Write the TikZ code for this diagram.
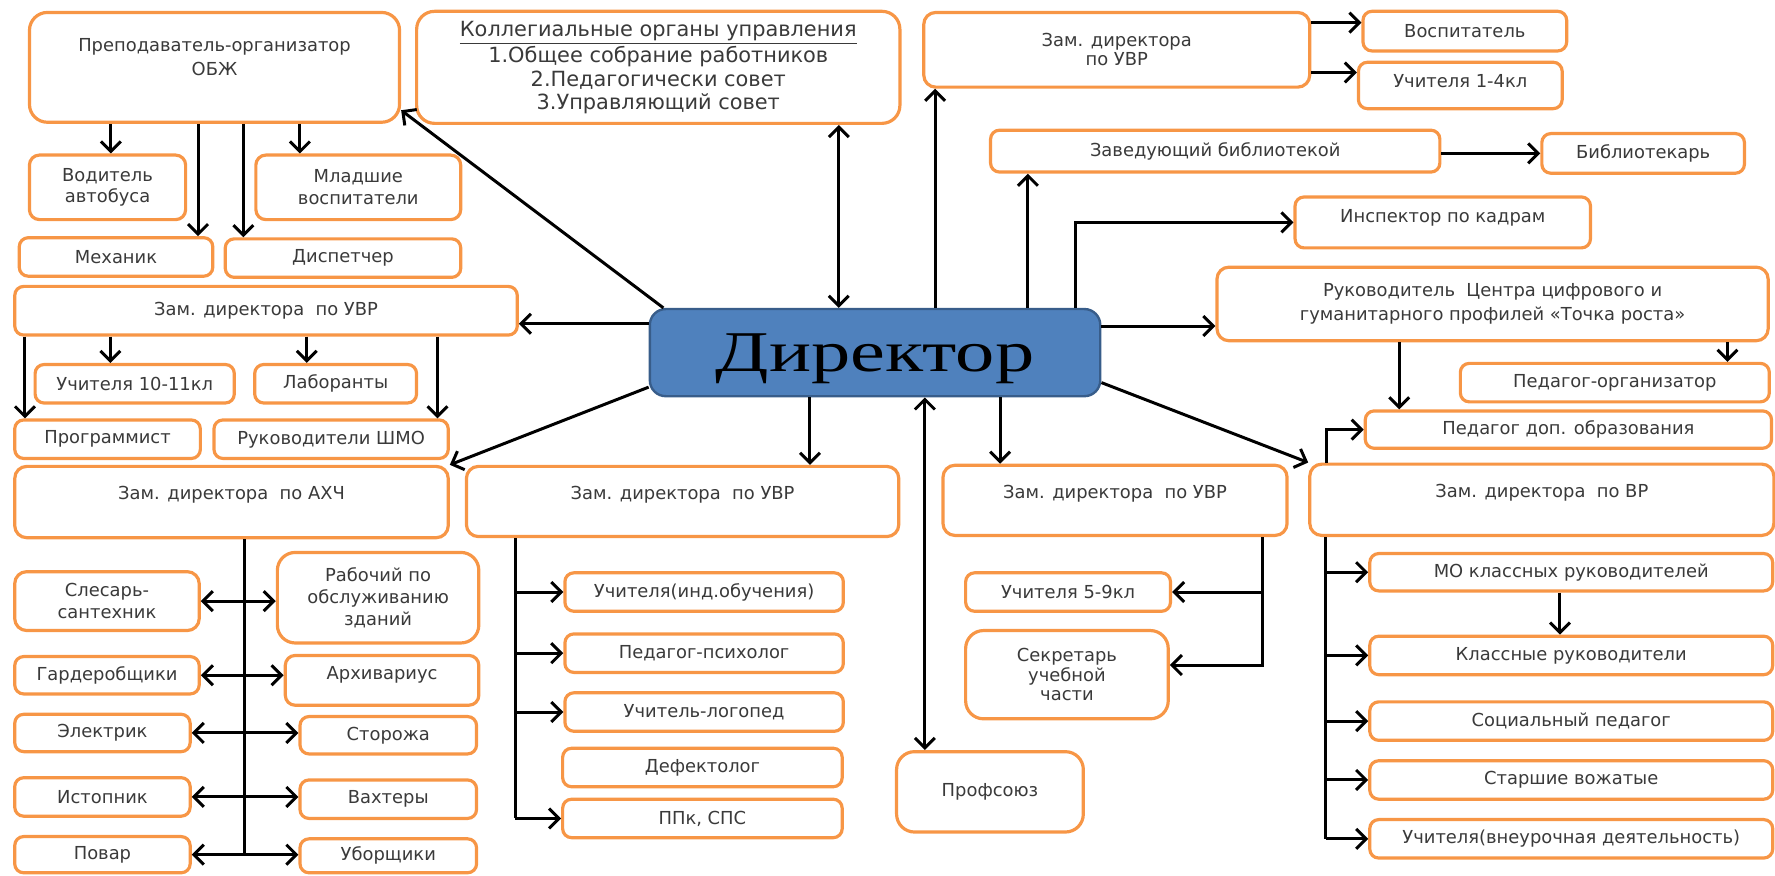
\documentclass[tikz,border=0pt]{standalone}
\usepackage{fontspec}
\setmainfont{DejaVu Sans}
\newfontfamily\dirfont{Liberation Serif}
\usepackage{graphicx}
\usepackage{tikz}
\usetikzlibrary{arrows.meta,positioning}

\definecolor{orng}{HTML}{F79646}
\definecolor{dirblue}{HTML}{4F81BD}
\definecolor{dirline}{HTML}{385D8A}
\definecolor{txt}{HTML}{3A3A3A}

\tikzset{
	box/.style={draw=orng, line width=1.6pt, fill=white, rounded corners=#1, align=center, text=txt, inner sep=2pt, font=\fontsize{9}{11}\selectfont},
	box/.default=4.5pt,
	link/.style={line width=1.5pt, black},
	chief/.style={draw=dirline, line width=1.2pt, fill=dirblue, rounded corners=8pt, text=black, text depth=0pt, font=\dirfont\fontsize{29}{29}\selectfont},
}

\begin{document}
\begin{tikzpicture}[x=0.02cm, y=-0.02cm, >={Straight Barb[length=5pt,width=10pt]}]
		
		\useasboundingbox (0,0) rectangle (1568,773);
		
		\node[chief, minimum width=7.96cm, minimum height=1.54cm] (dir) at (773,311.5) {\scalebox{1.36}[1]{Директор}};
		
		\node[box=9pt, minimum width=6.54cm, minimum height=1.94cm, font=\fontsize{9}{12}\selectfont] (obzh) at (189.5,59.5) {Преподаватель-организатор\\ОБЖ\\[-2pt]\mbox{}};
		
		\node[box=9pt, minimum width=8.54cm, minimum height=1.98cm, font=\fontsize{10.5}{11.6}\selectfont] (koll) at (581.5,59.5) {\underline{Коллегиальные органы управления}\\1.Общее собрание работников\\2.Педагогически совет\\3.Управляющий совет};
		
		\node[box=6pt, minimum width=6.82cm, minimum height=1.32cm, font=\fontsize{9}{9.6}\selectfont] (uvr1) at (986.5,44) {Зам. директора\\по УВР};
		
		\node[box, minimum width=3.6cm, minimum height=0.7cm] (vosp) at (1294,27.5) {Воспитатель};
		
		\node[box, minimum width=3.6cm, minimum height=0.82cm] (uch14) at (1290,75.5) {Учителя 1-4кл\\[-6pt]\mbox{}};
		
		\node[box, minimum width=7.94cm, minimum height=0.74cm] (zavbib) at (1073.5,133.5) {Заведующий библиотекой};
		
		\node[box, minimum width=3.58cm, minimum height=0.7cm] (bibl) at (1451.5,135.5) {Библиотекарь};
		
		\node[box, minimum width=5.22cm, minimum height=0.9cm] (insp) at (1274.5,196.5) {Инспектор по кадрам\\[-4pt]\mbox{}};
		
		\node[box=6pt, minimum width=9.74cm, minimum height=1.3cm, font=\fontsize{9}{12}\selectfont] (ruk) at (1318.5,268.5) {Руководитель~ Центра цифрового и\\гуманитарного профилей «Точка роста»};
		
		\node[box, minimum width=5.46cm, minimum height=0.68cm] (porg) at (1426.5,338) {Педагог-организатор};
		
		\node[box, minimum width=7.18cm, minimum height=0.66cm] (pdo) at (1385.5,379.5) {Педагог доп. образования};
		
		\node[box=5pt, minimum width=2.76cm, minimum height=1.14cm] (vod) at (95,165.5) {Водитель\\автобуса};
		
		\node[box=5pt, minimum width=3.62cm, minimum height=1.14cm] (mlad) at (316.5,165.5) {Младшие\\воспитатели};
		
		\node[box, minimum width=3.42cm, minimum height=0.68cm] (mech) at (102.5,227) {Механик};
		
		\node[box, minimum width=4.16cm, minimum height=0.68cm] (disp) at (303,228) {Диспетчер};
		
		\node[box, minimum width=8.88cm, minimum height=0.86cm] (uvr2) at (235,274.5) {Зам. директора~ по УВР};
		
		\node[box, minimum width=3.52cm, minimum height=0.68cm] (uch1011) at (119,339) {Учителя 10-11кл};
		
		\node[box, minimum width=2.86cm, minimum height=0.68cm] (lab) at (296.5,339) {Лаборанты};
		
		\node[box, minimum width=3.28cm, minimum height=0.68cm] (prog) at (95,388) {Программист};
		
		\node[box, minimum width=4.14cm, minimum height=0.68cm] (shmo) at (292.5,388) {Руководители ШМО};
		
		\node[box=6pt, minimum width=7.66cm, minimum height=1.26cm] (akh) at (204.5,443.5) {Зам. директора~ по АХЧ\\[-2pt]\mbox{}};
		
		\node[box=6pt, minimum width=7.64cm, minimum height=1.24cm] (uvr3) at (603,443) {Зам. директора~ по УВР\\[-2pt]\mbox{}};
		
		\node[box=6pt, minimum width=6.08cm, minimum height=1.24cm] (uvr4) at (985,442) {Зам. директора~ по УВР\\[-2pt]\mbox{}};
		
		\node[box=6pt, minimum width=8.2cm, minimum height=1.26cm] (vr) at (1362,441.5) {Зам. директора~ по ВР\\[-2pt]\mbox{}};
		
		\node[box=6pt, minimum width=3.26cm, minimum height=1.04cm] (sles) at (94.5,531) {Слесарь-\\сантехник};
		
		\node[box=9pt, minimum width=3.56cm, minimum height=1.6cm] (rab) at (334,528) {Рабочий по\\обслуживанию\\зданий};
		
		\node[box, minimum width=3.26cm, minimum height=0.66cm] (gard) at (94.5,596.5) {Гардеробщики};
		
		\node[box=5pt, minimum width=3.42cm, minimum height=0.88cm] (arch) at (337.5,601) {Архивариус\\[-4pt]\mbox{}};
		
		\node[box, minimum width=3.1cm, minimum height=0.66cm] (elek) at (90.5,647.5) {Электрик};
		
		\node[box, minimum width=3.12cm, minimum height=0.66cm] (stor) at (343,649.5) {Сторожа};
		
		\node[box, minimum width=3.1cm, minimum height=0.68cm] (ist) at (90.5,704) {Истопник};
		
		\node[box, minimum width=3.12cm, minimum height=0.68cm] (vakh) at (343,706) {Вахтеры};
		
		\node[box, minimum width=3.1cm, minimum height=0.64cm] (povar) at (90.5,755) {Повар};
		
		\node[box, minimum width=3.12cm, minimum height=0.6cm] (ubor) at (343,756) {Уборщики};
		
		\node[box, minimum width=4.92cm, minimum height=0.68cm] (ind) at (622,523) {Учителя(инд.обучения)};
		
		\node[box, minimum width=4.92cm, minimum height=0.68cm] (psy) at (622,577) {Педагог-психолог};
		
		\node[box, minimum width=4.92cm, minimum height=0.68cm] (log) at (622,629) {Учитель-логопед};
		
		\node[box, minimum width=4.94cm, minimum height=0.68cm] (def) at (620.5,678) {Дефектолог};
		
		\node[box, minimum width=4.94cm, minimum height=0.68cm] (ppk) at (620.5,723) {ППк, СПС};
		
		\node[box=9pt, minimum width=3.3cm, minimum height=1.42cm] (prof) at (874.5,699.5) {Профсоюз};
		
		\node[box, minimum width=3.62cm, minimum height=0.68cm] (u59) at (943.5,523) {Учителя 5-9кл};
		
		\node[box=9pt, minimum width=3.58cm, minimum height=1.56cm, font=\fontsize{9}{9.8}\selectfont] (sekr) at (942.5,596) {Секретарь\\учебной\\части};
		
		\node[box, minimum width=7.12cm, minimum height=0.66cm] (mo) at (1388,505.5) {МО классных руководителей};
		
		\node[box, minimum width=7.12cm, minimum height=0.68cm] (kl) at (1388,579) {Классные руководители};
		
		\node[box, minimum width=7.12cm, minimum height=0.68cm] (soc) at (1388,637) {Социальный педагог};
		
		\node[box, minimum width=7.12cm, minimum height=0.68cm] (star) at (1388,689) {Старшие вожатые};
		
		\node[box, minimum width=7.12cm, minimum height=0.68cm] (uvn) at (1388,741) {Учителя(внеурочная деятельность)};
		
		\draw[link, ->] (586,0 |- dir.north) -- ([yshift=0.24cm]obzh.south east);
		\draw[link, <->] (741,0 |- dir.north) -- (741,0 |- koll.south);
		\draw[link, ->] (826,0 |- dir.north) -- (826,0 |- uvr1.south);
		\draw[link, ->] (908,0 |- dir.north) -- (908,0 |- zavbib.south);
		\draw[link, ->] (950,0 |- dir.north) |- (insp.west);
		\draw[link, ->] (dir.east |- 0,288) -- (ruk.west |- 0,288);
		\draw[link, ->] (dir.west |- 0,286) -- (uvr2.east |- 0,286);
		\draw[link, ->] (dir.west |- 0,342) -- (akh.north east);
		\draw[link, ->] (dir.east |- 0,338) -- (vr.north west);
		\draw[link, ->] (715.5,0 |- dir.south) -- (715.5,0 |- uvr3.north);
		\draw[link, ->] (883.5,0 |- dir.south) -- (883.5,0 |- uvr4.north);
		\draw[link, <->] (817,0 |- dir.south) -- (817,0 |- prof.north);
		
		\draw[link, ->] (98,0 |- obzh.south) -- (98,0 |- vod.north);
		\draw[link, ->] (175,0 |- obzh.south) -- (175,0 |- mech.north);
		\draw[link, ->] (215,0 |- obzh.south) -- (215,0 |- disp.north);
		\draw[link, ->] (265,0 |- obzh.south) -- (265,0 |- mlad.north);
		
		\draw[link, ->] (22,0 |- uvr2.south) -- (22,0 |- prog.north);
		\draw[link, ->] (97.5,0 |- uvr2.south) -- (97.5,0 |- uch1011.north);
		\draw[link, ->] (271,0 |- uvr2.south) -- (271,0 |- lab.north);
		\draw[link, ->] (386.5,0 |- uvr2.south) -- (386.5,0 |- shmo.north);
		
		\draw[link, ->] (uvr1.east |- 0,20) -- (vosp.west |- 0,20);
		\draw[link, ->] (uvr1.east |- 0,64) -- (uch14.west |- 0,64);
		\draw[link, ->] (zavbib.east |- bibl.west) -- (bibl.west);
		\draw[link, ->] (1236,0 |- ruk.south) -- (1236,0 |- pdo.north);
		\draw[link, ->] (1526,0 |- ruk.south) -- (1526,0 |- porg.north);
		\draw[link, ->] (1172,0 |- vr.north) |- (pdo.west);
		
		\draw[link] (216,0 |- akh.south) -- (216,0 |- povar.east);
		\draw[link, <->] (sles.east) -- (sles.east -| rab.west);
		\draw[link, <->] (gard.east) -- (gard.east -| arch.west);
		\draw[link, <->] (elek.east) -- (elek.east -| stor.west);
		\draw[link, <->] (ist.east) -- (ist.east -| vakh.west);
		\draw[link, <->] (povar.east) -- (povar.east -| ubor.west);
		
		\draw[link] (455,0 |- uvr3.south) -- (455,0 |- ppk.west);
		\draw[link, ->] (455,0 |- ind.west) -- (ind.west);
		\draw[link, ->] (455,0 |- psy.west) -- (psy.west);
		\draw[link, ->] (455,0 |- log.west) -- (log.west);
		\draw[link, ->] (455,0 |- ppk.west) -- (ppk.west);
		
		\draw[link, ->] (1115,0 |- uvr4.south) |- ([yshift=0.17cm]sekr.east);
		\draw[link, ->] (1115,0 |- u59.east) -- (u59.east);
		
		\draw[link] (1171,0 |- vr.south) -- (1171,0 |- uvn.west);
		\draw[link, ->] (1171,0 |- mo.west) -- (mo.west);
		\draw[link, ->] (1171,0 |- kl.west) -- (kl.west);
		\draw[link, ->] (1171,0 |- soc.west) -- (soc.west);
		\draw[link, ->] (1171,0 |- star.west) -- (star.west);
		\draw[link, ->] (1171,0 |- uvn.west) -- (uvn.west);
		\draw[link, ->] (1378,0 |- mo.south) -- (1378,0 |- kl.north);
		
	\end{tikzpicture}
\end{document}
